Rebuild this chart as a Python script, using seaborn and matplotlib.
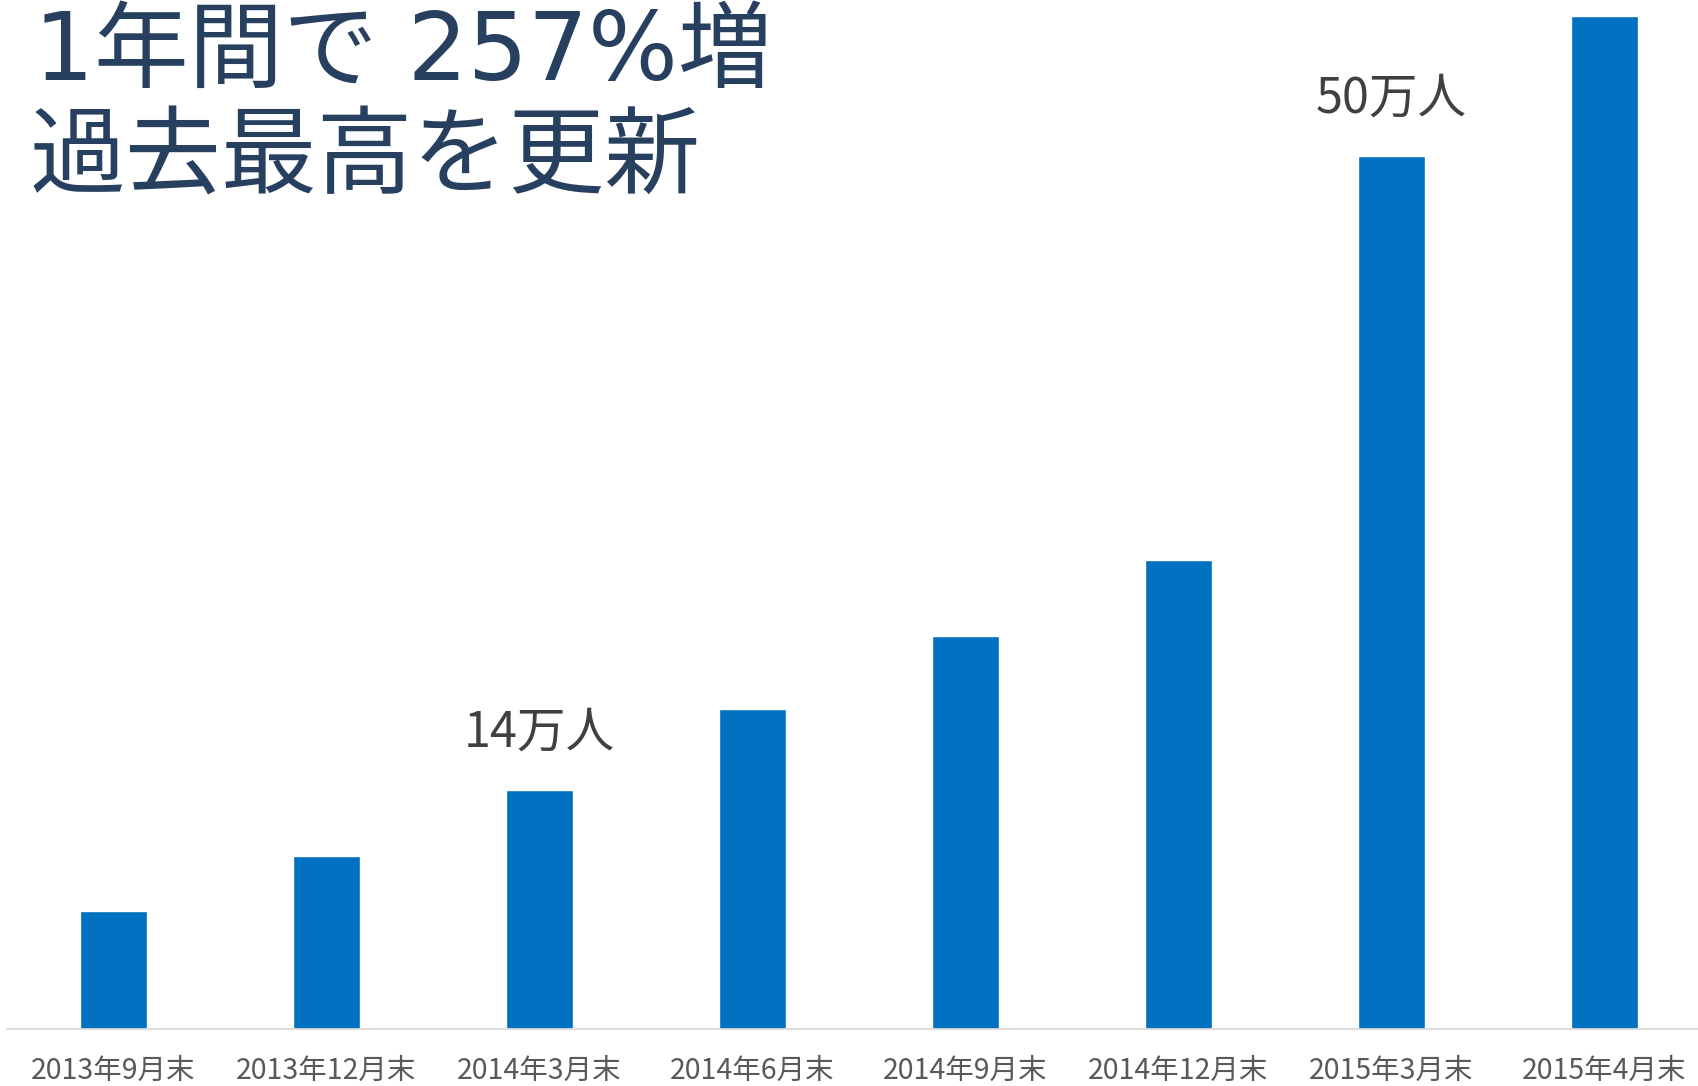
import matplotlib
matplotlib.use("Agg")
import matplotlib.pyplot as plt
import pandas as pd
import seaborn as sns

# data (unit: 万人)
periods = ["2013年9月末", "2013年12月末", "2014年3月末", "2014年6月末",
           "2014年9月末", "2014年12月末", "2015年3月末", "2015年4月末"]
users = [6.8, 10.0, 13.8, 18.5, 22.7, 27.1, 50.4, 58.5]
callouts = {2: "14万人", 6: "50万人"}
title_lines = ["1年間で 257%増", "過去最高を更新"]

sns.set_theme(style="white")
plt.rcParams['font.family'] = ['Noto Sans CJK JP', 'DejaVu Sans']

df = pd.DataFrame({"period": periods, "users": users})

W, H = 1699, 1086
fig = plt.figure(figsize=(W / 100, H / 100), dpi=100)
ax = fig.add_axes([7 / W, 1 - 1029 / H, (W - 7) / W, 1029 / H])

sns.barplot(data=df, x="period", y="users", color="#0070C0", saturation=1,
            width=0.315, ax=ax)

ax.set_xlim(-0.5, -0.5 + (W - 7) / 213)
ax.set_ylim(0, 59.4)
ax.set_xlabel("")
ax.set_ylabel("")
ax.set_yticks([])
for s in ["top", "right", "left"]:
    ax.spines[s].set_visible(False)
ax.spines["bottom"].set_color("#D9D9D9")
ax.spines["bottom"].set_linewidth(1.3)
ax.tick_params(axis="x", length=0, pad=19, labelsize=20.5, labelcolor="#595959")
ax.set_facecolor("none")

for i, txt in callouts.items():
    ax.annotate(txt, (i, users[i]), xytext=(0, 41), textcoords="offset points",
                ha="center", va="center", fontsize=35, color="#404040")

title_font = ['DejaVu Sans', 'Noto Sans CJK JP']
fig.text(34 / W, 1 - 54 / H, title_lines[0], ha="left", va="center",
         fontsize=68, color="#27405F", family=title_font)
fig.text(30 / W, 1 - 159 / H, title_lines[1], ha="left", va="center",
         fontsize=69, color="#27405F")

fig.savefig("out.png", dpi=100)
